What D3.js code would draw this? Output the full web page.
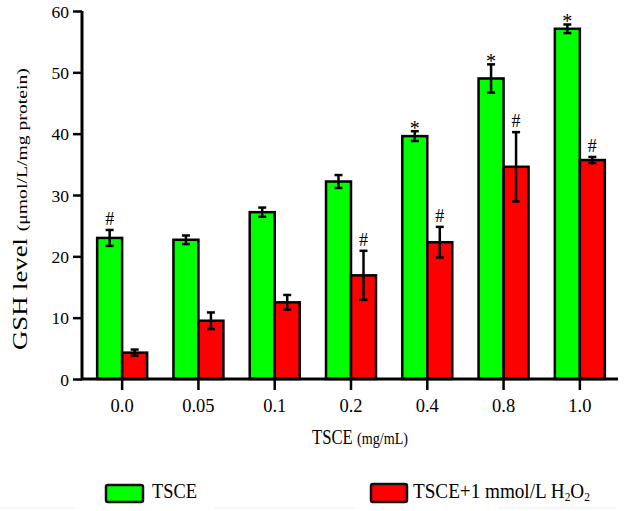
<!DOCTYPE html>
<html><head><meta charset="utf-8">
<script src="https://cdn.jsdelivr.net/npm/d3@7"></script>
<style>body{margin:0;background:#fff}svg{display:block}text{font-family:"Liberation Serif","Times New Roman",serif;fill:#000}</style>
</head><body>
<script>
const categories = ["0.0","0.05","0.1","0.2","0.4","0.8","1.0"];
const tsce = [23.0, 22.7, 27.2, 32.2, 39.6, 49.0, 57.1];
const tsceErr = [1.3, 0.7, 0.75, 1.05, 0.8, 2.3, 0.7];
const h2o2 = [4.3, 9.5, 12.5, 16.9, 22.3, 34.6, 35.7];
const h2o2Err = [0.5, 1.35, 1.2, 4.0, 2.5, 5.65, 0.5];
const tsceMarks = ["#", "", "", "", "*", "*", "*"];
const h2o2Marks = ["", "", "", "#", "#", "#", "#"];
const yTicks = [0,10,20,30,40,50,60];
const seriesNames = ["TSCE", "TSCE+1 mmol/L H2O2"];
const colors = ["#00ff00", "#ff0000"];

const W = 631, H = 511;
const svg = d3.select("body").append("svg").attr("width", W).attr("height", H);

const x = d3.scaleBand().domain(categories).range([84, 618]).paddingInner(0).paddingOuter(0);
const y = d3.scaleLinear().domain([0, 60]).range([379, 11]);
const bw = 25;

// bars
const g = svg.append("g");
const series = [
  {vals: tsce, err: tsceErr, marks: tsceMarks, off: -bw, color: colors[0]},
  {vals: h2o2, err: h2o2Err, marks: h2o2Marks, off: 0, color: colors[1]}
];
series.forEach(s => {
  const cx = c => x(c) + x.bandwidth()/2 + s.off;
  g.selectAll(null).data(categories).enter().append("rect")
    .attr("x", c => cx(c)).attr("width", bw)
    .attr("y", (c,i) => y(s.vals[i])).attr("height", (c,i) => y(0) - y(s.vals[i]))
    .attr("fill", s.color).attr("stroke", "#000").attr("stroke-width", 2.5);
  categories.forEach((c,i) => {
    const mx = cx(c) + bw/2;
    const top = y(s.vals[i] + s.err[i]), bot = y(s.vals[i] - s.err[i]);
    g.append("line").attr("x1", mx).attr("x2", mx).attr("y1", top).attr("y2", bot)
      .attr("stroke", "#000").attr("stroke-width", 2.5);
    [top, bot].forEach(yy => g.append("line").attr("x1", mx-4).attr("x2", mx+4).attr("y1", yy).attr("y2", yy)
      .attr("stroke", "#000").attr("stroke-width", 2.5));
    if (s.marks[i]) {
      const star = s.marks[i] === "*";
      g.append("text").attr("x", mx).attr("y", top - (star ? -4 : 5))
        .attr("text-anchor", "middle").attr("font-size", star ? 20 : 18).text(s.marks[i]);
    }
  });
});

// axes
const yAxis = d3.axisLeft(y).tickValues(yTicks).tickSize(9).tickPadding(4).tickFormat(d3.format("d"));
const ya = svg.append("g").attr("transform", "translate(82,0)").call(yAxis);
ya.attr("font-family", null);
ya.select(".domain").attr("stroke-width", 3).attr("d", "M0,11V379");
ya.selectAll(".tick line").attr("stroke-width", 2.5);
ya.selectAll(".tick text").attr("font-size", 17.5).attr("dy", "0.35em");

const xAxis = d3.axisBottom(x).tickSize(11).tickPadding(9);
const xa = svg.append("g").attr("transform", "translate(0,379)").call(xAxis);
xa.attr("font-family", null);
xa.select(".domain").attr("stroke-width", 3).attr("d", "M81,0H618");
xa.selectAll(".tick line").attr("stroke-width", 2.5);
xa.selectAll(".tick text").attr("font-size", 18.5);

// fit a text (drawn at origin of its group) to a target length along its baseline
function fitText(text, target) {
  const len = text.node().getComputedTextLength();
  return target / len;
}

// x title (source text is stretched vertically)
const xtg = svg.append("g");
const xt = xtg.append("text").attr("font-size", 16.5);
xt.append("tspan").text("TSCE ");
xt.append("tspan").attr("font-size", 14).text("(mg/mL)");
const sx = fitText(xt, 96);
xtg.attr("transform", `translate(312,444) scale(${sx},${1.25})`);

// y title
const ytg = svg.append("g");
const yt = ytg.append("text").attr("font-size", 21);
yt.append("tspan").text("GSH level ");
yt.append("tspan").attr("font-size", 15.5).text("(μmol/L/mg protein)");
const sy = fitText(yt, 282);
ytg.attr("transform", `translate(27,350) rotate(-90) scale(${sy},1)`);

// legend
const leg = svg.append("g");
leg.append("rect").attr("x", 106).attr("y", 485).attr("width", 37).attr("height", 17).attr("rx", 2)
  .attr("fill", colors[0]).attr("stroke", "#111").attr("stroke-width", 2.5);
const l1g = leg.append("g");
const l1 = l1g.append("text").attr("font-size", 18.5).text(seriesNames[0]);
l1g.attr("transform", `translate(152,498) scale(${fitText(l1, 45)},1.15)`);
leg.append("rect").attr("x", 371).attr("y", 484).attr("width", 36).attr("height", 18).attr("rx", 2)
  .attr("fill", colors[1]).attr("stroke", "#111").attr("stroke-width", 2.5);
const l2g = leg.append("g");
const lt = l2g.append("text").attr("font-size", 18.5);
lt.append("tspan").text("TSCE+1 mmol/L H");
lt.append("tspan").attr("font-size", 11).attr("dy", 3).text("2");
lt.append("tspan").attr("dy", -3).text("O");
lt.append("tspan").attr("font-size", 11).attr("dy", 3).text("2");
l2g.attr("transform", `translate(413,498) scale(${fitText(lt, 177)},1.15)`);

// faint separator lines
[[0,75],[214,355],[498,617]].forEach(([a,b]) => svg.append("line").attr("x1", a).attr("x2", b)
  .attr("y1", 508).attr("y2", 508).attr("stroke", "#eee").attr("stroke-width", 1));
</script>
</body></html>
